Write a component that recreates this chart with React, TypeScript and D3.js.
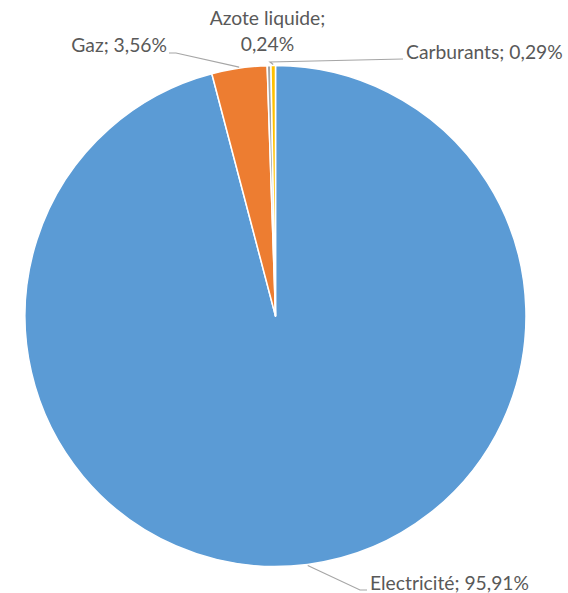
import React, { useEffect, useRef } from 'react';
import * as d3 from 'd3';

const categories = ['Electricité', 'Gaz', 'Azote liquide', 'Carburants'];
const shares = [95.91, 3.56, 0.24, 0.29];
const shareLabels = ['95,91%', '3,56%', '0,24%', '0,29%'];
const colors = ['#5B9BD5', '#ED7D31', '#A5A5A5', '#FFC000'];

const App: React.FC = () => {
  const svgRef = useRef<SVGSVGElement>(null);
  const width = 568;
  const height = 593;

  useEffect(() => {
    if (!svgRef.current) return;
    const svg = d3.select(svgRef.current);
    svg.selectAll('*').remove();

    const cx = 275.5;
    const cy = 316;
    const radius = 250.5;

    const pie = d3.pie<number>().sort(null).value(d => d);
    const arcs = pie(shares);
    const arc = d3.arc<d3.PieArcDatum<number>>().innerRadius(0).outerRadius(radius);

    const g = svg.append('g').attr('transform', `translate(${cx}, ${cy})`);

    g.selectAll('path.slice')
      .data(arcs)
      .enter().append('path')
      .attr('class', 'slice')
      .attr('d', arc)
      .attr('fill', (_, i) => colors[i])
      .attr('stroke', '#fff')
      .attr('stroke-width', 1.5)
      .attr('stroke-linejoin', 'round');

    // point on the rim at the slice's mid angle
    const rim = (a: d3.PieArcDatum<number>, extra = 1) => {
      const m = (a.startAngle + a.endAngle) / 2;
      return [Math.sin(m) * (radius + extra), -Math.cos(m) * (radius + extra)];
    };

    // label placement (page coords)
    const labelLayout = [
      { x: 370, y: 590, anchor: 'start', lines: 1, elbow: [[360, 590], [367, 590]] },
      { x: 167, y: 52, anchor: 'end', lines: 1, elbow: [[176, 53], [169, 53]] },
      { x: 267.5, y: 25, anchor: 'middle', lines: 2, elbow: null },
      { x: 406, y: 59, anchor: 'start', lines: 1, elbow: [[270, 62], [403, 59]] },
    ];

    const font = 'Lato, "Open Sans", sans-serif';

    // Leader lines
    arcs.forEach((a, i) => {
      const lay = labelLayout[i];
      if (!lay.elbow) return;
      const p0 = rim(a, 1);
      const pts: [number, number][] = [
        [p0[0], p0[1]],
        ...lay.elbow.map(p => [p[0] - cx, p[1] - cy] as [number, number]),
      ];
      g.append('path')
        .attr('d', d3.line()(pts))
        .attr('fill', 'none')
        .attr('stroke', '#A6A6A6')
        .attr('stroke-width', 1.2);
    });

    // Labels
    arcs.forEach((_, i) => {
      const lay = labelLayout[i];
      const t = svg.append('text')
        .attr('x', lay.x)
        .attr('y', lay.y)
        .attr('text-anchor', lay.anchor)
        .style('font-family', font)
        .style('font-size', '19.3px')
        .style('fill', '#595959');
      if (lay.lines === 2) {
        t.append('tspan').attr('x', lay.x).text(`${categories[i]};`);
        t.append('tspan').attr('x', lay.x).attr('dy', 26).text(shareLabels[i]);
      } else {
        t.text(`${categories[i]}; ${shareLabels[i]}`);
      }
    });
  }, []);

  return (
    <svg
      ref={svgRef}
      width={width}
      height={height}
      style={{ position: 'absolute', left: 0, top: 0, background: '#fff' }}
    />
  );
};

export default App;
